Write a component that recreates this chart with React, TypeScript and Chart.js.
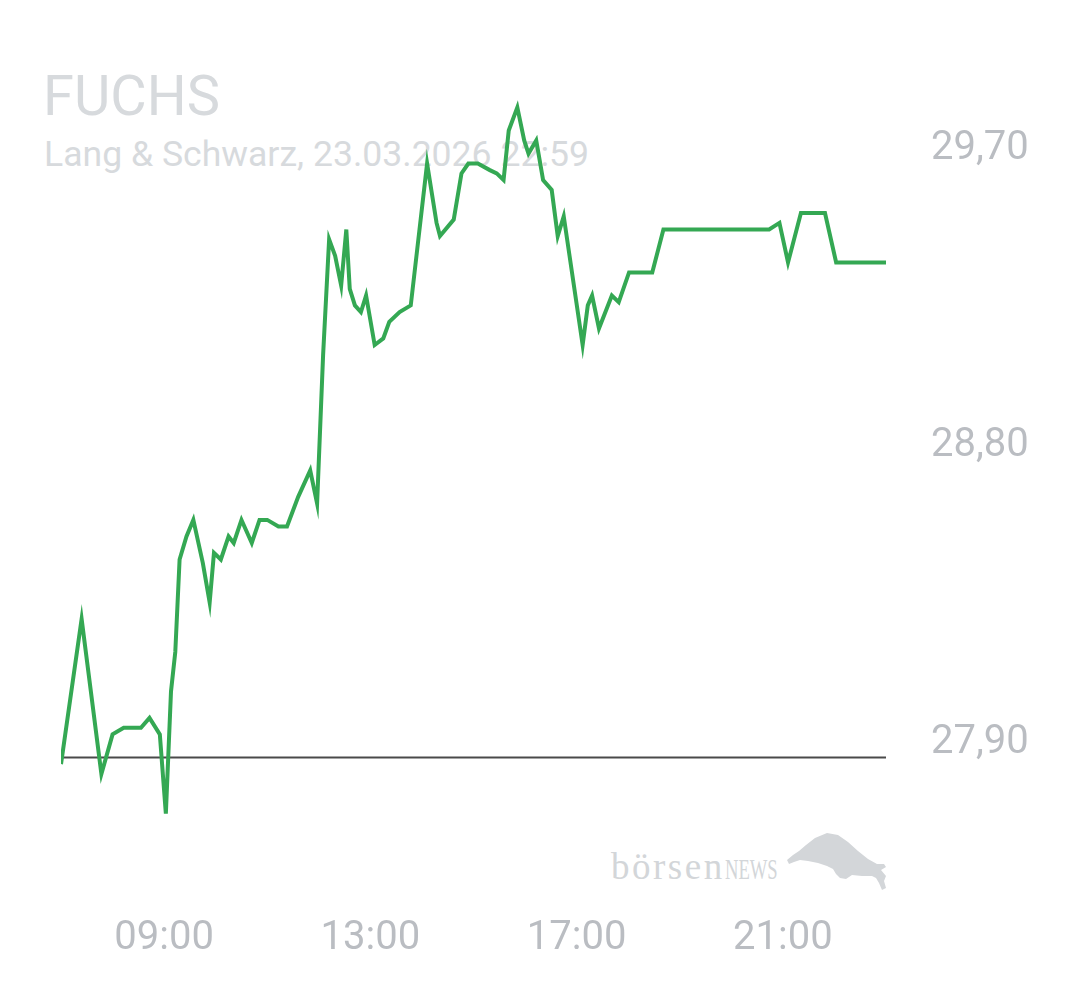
import React, { useEffect, useRef } from "react";
import { Chart, registerables } from "chart.js";

Chart.register(...registerables);

// ---- data ----
const title = "FUCHS";
const subtitle = "Lang & Schwarz, 23.03.2026 22:59";

const times = [
  "07:00", "07:24", "07:47", "08:00", "08:13", "08:33", "08:43", "08:55", "09:02", "09:08",
  "09:13", "09:18", "09:26", "09:34", "09:45", "09:53", "09:58", "10:06", "10:15", "10:21",
  "10:30", "10:42", "10:51", "11:00", "11:13", "11:23", "11:36", "11:50", "11:58", "12:05",
  "12:12", "12:19", "12:26", "12:32", "12:36", "12:42", "12:49", "12:55", "13:05", "13:15",
  "13:22", "13:34", "13:47", "14:06", "14:17", "14:21", "14:37", "14:46", "14:54", "15:05",
  "15:19", "15:27", "15:35", "15:41", "15:51", "15:59", "16:04", "16:13", "16:21", "16:31",
  "16:38", "16:45", "17:07", "17:13", "17:18", "17:26", "17:41", "17:49", "18:01", "18:28",
  "18:41", "20:44", "20:56", "21:06", "21:21", "21:49", "22:02", "23:00",
];

const prices = [
  27.83, 28.27, 27.80, 27.92, 27.94, 27.94, 27.97, 27.92, 27.68, 28.05,
  28.17, 28.45, 28.52, 28.57, 28.44, 28.32, 28.47, 28.45, 28.52, 28.50,
  28.57, 28.50, 28.57, 28.57, 28.55, 28.55, 28.64, 28.72, 28.62, 29.07,
  29.42, 29.37, 29.28, 29.45, 29.27, 29.22, 29.20, 29.25, 29.10, 29.12,
  29.17, 29.20, 29.22, 29.65, 29.47, 29.43, 29.48, 29.62, 29.65, 29.65,
  29.63, 29.62, 29.60, 29.75, 29.82, 29.72, 29.68, 29.72, 29.60, 29.57,
  29.43, 29.49, 29.10, 29.22, 29.25, 29.15, 29.25, 29.23, 29.32, 29.32,
  29.45, 29.45, 29.47, 29.35, 29.50, 29.50, 29.35, 29.35,
];

const previousClose = 27.85;
const sessionStart = "07:00";
const sessionEnd = "23:00";

const xTickLabels = ["09:00", "13:00", "17:00", "21:00"];
const yTickValues = [27.9, 28.8, 29.7];

// ---- helpers ----
const toMin = (t: string) => {
  const [h, m] = t.split(":").map(Number);
  return h * 60 + m;
};
const fmtMin = (v: number) => {
  const h = Math.floor(v / 60);
  const m = Math.round(v - h * 60);
  return String(h).padStart(2, "0") + ":" + String(m).padStart(2, "0");
};
const fmtPrice = (v: number) => v.toFixed(2).replace(".", ",");

const W = 1080;
const H = 990;

const bullPlugin = {
  id: "bullLogo",
  beforeDatasetsDraw(chart: any) {
    const ctx = chart.ctx as CanvasRenderingContext2D;
    ctx.save();
    ctx.fillStyle = "#d3d6d9";
    ctx.beginPath();
    const pts: [number, number][] = [
      [787, 860], [793, 855], [799, 851], [806, 845], [815, 838], [827, 833],
      [838, 835], [848, 842], [858, 851], [868, 859], [877, 864], [884, 864],
      [886, 867], [881, 870], [886, 876], [884, 881], [886, 888], [882, 890],
      [879, 883], [876, 878], [872, 876], [862, 876], [852, 875], [846, 879],
      [840, 878], [836, 874], [833, 869], [827, 866], [818, 863], [808, 861],
      [800, 860], [794, 862], [789, 864],
    ];
    ctx.moveTo(pts[0][0], pts[0][1]);
    for (let i = 1; i < pts.length; i++) ctx.lineTo(pts[i][0], pts[i][1]);
    ctx.closePath();
    ctx.fill();
    ctx.restore();
  },
};

export default function App() {
  const ref = useRef<HTMLCanvasElement | null>(null);

  useEffect(() => {
    if (!ref.current) return;
    const series = times.map((t, i) => ({ x: toMin(t), y: prices[i] }));
    const baseline = [
      { x: toMin(sessionStart), y: previousClose },
      { x: toMin(sessionEnd), y: previousClose },
    ];
    const chart = new Chart(ref.current, {
      type: "line",
      data: {
        datasets: [
          {
            data: series,
            borderColor: "#34a853",
            borderWidth: 4,
            pointRadius: 0,
            tension: 0,
            fill: false,
          },
          {
            data: baseline,
            borderColor: "#4a4a4a",
            borderWidth: 2.2,
            pointRadius: 0,
            tension: 0,
            fill: false,
          },
        ],
      },
      options: {
        animation: false,
        responsive: false,
        maintainAspectRatio: false,
        layout: { padding: { left: 61, top: 48, right: 0, bottom: 0 } },
        plugins: {
          legend: { display: false },
          tooltip: { enabled: false },
        },
        scales: {
          x: {
            type: "linear",
            min: toMin(sessionStart),
            max: toMin(sessionEnd),
            grid: { display: false, drawTicks: false },
            border: { display: false },
            ticks: {
              font: { family: "Roboto", size: 40 },
              color: "#babdc2",
              padding: 42,
              maxRotation: 0,
              autoSkip: false,
              callback: (v: any) => fmtMin(Number(v)),
            },
            afterBuildTicks: (s: any) => {
              s.ticks = xTickLabels.map((t) => ({ value: toMin(t) }));
            },
            afterFit: (s: any) => {
              s.height = H - 873;
              s.paddingLeft = 0;
              s.paddingRight = 0;
              s.paddingTop = 0;
              s.paddingBottom = 0;
            },
          },
          y: {
            position: "right",
            min: 27.5,
            max: 30.0,
            grid: { display: false, drawTicks: false },
            border: { display: false },
            ticks: {
              font: { family: "Roboto", size: 40 },
              color: "#babdc2",
              padding: 45,
              labelOffset: 2,
              callback: (v: any) => fmtPrice(Number(v)),
            },
            afterBuildTicks: (s: any) => {
              s.ticks = yTickValues.map((v) => ({ value: v }));
            },
            afterFit: (s: any) => {
              s.width = W - 886;
              s.paddingTop = 0;
              s.paddingBottom = 0;
              s.paddingLeft = 0;
              s.paddingRight = 0;
            },
          },
        },
      },
      plugins: [bullPlugin],
    } as any);
    return () => chart.destroy();
  }, []);

  return (
    <div
      style={{
        position: "absolute",
        left: 0,
        top: 0,
        width: W,
        height: H,
        background: "#ffffff",
        overflow: "hidden",
      }}
    >
      <div
        style={{
          position: "absolute",
          left: 43,
          top: 67.5,
          fontFamily: "Roboto",
          fontSize: 56,
          lineHeight: 1,
          color: "#d7dadd",
          whiteSpace: "nowrap",
        }}
      >
        {title}
      </div>
      <div
        style={{
          position: "absolute",
          left: 44,
          top: 137,
          fontFamily: "Roboto",
          fontSize: 35.6,
          lineHeight: 1,
          color: "#d7dadd",
          whiteSpace: "nowrap",
        }}
      >
        {subtitle}
      </div>
      <div
        style={{
          position: "absolute",
          left: 611,
          top: 848,
          fontFamily: "'Liberation Serif', serif",
          fontSize: 37,
          lineHeight: 1,
          color: "#d3d6d9",
          whiteSpace: "nowrap",
          letterSpacing: 2.5,
        }}
      >
        börsen
        <span
          style={{
            display: "inline-block",
            fontSize: 30,
            letterSpacing: 0,
            transform: "scaleX(0.62)",
            transformOrigin: "left bottom",
          }}
        >
          NEWS
        </span>
      </div>
      <canvas
        ref={ref}
        width={W}
        height={H}
        style={{ position: "absolute", left: 0, top: 0, width: W, height: H }}
      />
    </div>
  );
}
